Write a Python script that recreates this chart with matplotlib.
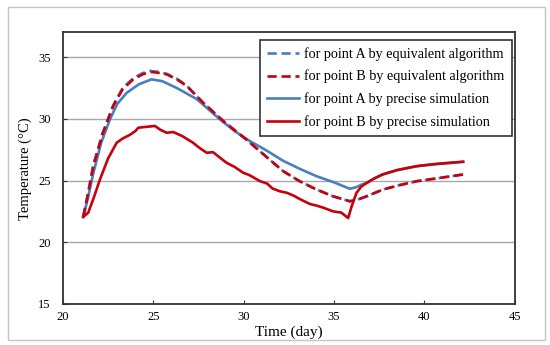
import matplotlib
matplotlib.use('Agg')
import matplotlib.pyplot as plt
from matplotlib.patches import Rectangle

plt.rcParams['font.family'] = ['Liberation Serif', 'DejaVu Serif']

# values
t_a_eq = [21.12, 21.4, 21.68, 22.2, 22.78, 23.3, 23.89, 24.4, 24.81, 25.2, 25.74, 26.3, 26.84,
          27.76, 28.87, 30.16, 31.27, 32.18, 33.1, 34.03, 34.95, 35.87, 36.3, 36.8, 37.7,
          38.6, 39.56, 40.8, 42.14]
temp_a_eq = [22.05, 24.1, 26.3, 28.9, 31.1, 32.5, 33.3, 33.7, 33.88, 33.82, 33.65, 33.25, 32.7,
             31.3, 29.82, 28.3, 26.9, 25.76, 24.94, 24.27, 23.72, 23.32, 23.45, 23.72, 24.27,
             24.62, 24.94, 25.2, 25.49]

t_b_eq = t_a_eq
temp_b_eq = [22.05, 24.0, 26.16, 28.8, 31.04, 32.4, 33.2, 33.6, 33.8, 33.75, 33.6, 33.2, 32.67,
             31.3, 29.82, 28.3, 26.9, 25.76, 24.94, 24.27, 23.72, 23.32, 23.45, 23.72, 24.27,
             24.62, 24.94, 25.2, 25.49]

t_a_pr = [21.12, 21.4, 21.68, 22.1, 22.6, 23.0, 23.52, 24.2, 24.9, 25.5, 26.29, 27.4, 28.68,
          29.5, 30.34, 31.3, 32.18, 33.1, 34.03, 35.0, 35.87, 36.2, 36.5, 36.8, 37.2, 37.7,
          38.5, 39.56, 40.5, 41.3, 42.14]
temp_a_pr = [22.05, 23.7, 25.6, 28.0, 29.96, 31.2, 32.1, 32.8, 33.2, 33.05, 32.5, 31.6, 29.96,
             29.0, 28.2, 27.4, 26.6, 25.95, 25.35, 24.85, 24.33, 24.45, 24.65, 24.8, 25.15, 25.5,
             25.85, 26.16, 26.32, 26.42, 26.52]

t_b_pr = [21.12, 21.4, 21.7, 22.05, 22.5, 22.97, 23.3, 23.7, 24.0, 24.17, 24.6, 25.09, 25.4,
          25.74, 26.1, 26.6, 27.2, 27.5, 27.95, 28.3, 28.6, 29.05, 29.5, 29.97, 30.3, 30.9,
          31.3, 31.6, 32.0, 32.4, 32.8, 33.1, 33.66, 34.03, 34.4, 34.95, 35.4, 35.78, 35.97,
          36.24, 36.5, 36.8, 37.2, 37.7, 38.5, 39.56, 40.5, 41.3, 42.14]
temp_b_pr = [22.05, 22.4, 23.6, 25.1, 26.8, 28.06, 28.4, 28.7, 29.0, 29.28, 29.35, 29.42, 29.1,
             28.87, 28.93, 28.6, 28.06, 27.7, 27.25, 27.3, 26.95, 26.44, 26.1, 25.63, 25.45,
             24.95, 24.75, 24.35, 24.13, 24.0, 23.75, 23.5, 23.1, 22.97, 22.8, 22.5, 22.4,
             21.96, 22.9, 24.0, 24.5, 24.8, 25.15, 25.5, 25.85, 26.16, 26.32, 26.42, 26.52]

labels = ['for point A by equivalent algorithm', 'for point B by equivalent algorithm',
          'for point A by precise simulation', 'for point B by precise simulation']

blue = '#4a7fbf'
red = '#c8000a'

fig = plt.figure(figsize=(5.5, 3.45), dpi=100)
ax = fig.add_axes([0.1145, 0.119, 0.8215, 0.787])

fig.patches.append(Rectangle((0.0145, 0.014), 0.976, 0.966, transform=fig.transFigure,
                             fill=False, edgecolor='#c4c4c4', linewidth=1))

l3, = ax.plot(t_a_pr, temp_a_pr, color=blue, lw=1.9, zorder=3)
l4, = ax.plot(t_b_pr, temp_b_pr, color=red, lw=1.9, zorder=3)
l1, = ax.plot(t_a_eq, temp_a_eq, color=blue, lw=1.9, ls=(0, (3.5, 1.8)), zorder=4)
l2, = ax.plot(t_b_eq, temp_b_eq, color=red, lw=1.9, ls=(0, (3.5, 1.8)), zorder=4)

ax.set_xlim(20, 45)
ax.set_ylim(15, 37)
ax.set_xticks(range(20, 46, 5))
ax.set_yticks(range(15, 36, 5))
ax.yaxis.grid(True, color='#a8a8a8', lw=1)
ax.set_axisbelow(True)
ax.tick_params(labelsize=9, length=3, width=0.8, color='#333333', direction='in')
ax.tick_params(axis='y', pad=9)
ax.tick_params(axis='x', pad=5)
for s in ax.spines.values():
    s.set_linewidth(1.3)
    s.set_color('#333333')

ax.set_xlabel('Time (day)', fontsize=11, labelpad=2)
ax.set_ylabel('Temperature (°C)', fontsize=10.5, labelpad=4)

leg = ax.legend([l1, l2, l3, l4], labels, loc='upper right', bbox_to_anchor=(0.993, 0.972),
                fontsize=10.2, frameon=True, fancybox=False, framealpha=1, borderaxespad=0,
                handlelength=2.2, handletextpad=0.4, labelspacing=0.62, borderpad=0.5)
leg.get_frame().set_edgecolor('#333333')
leg.get_frame().set_linewidth(1.2)

fig.savefig('out.png', dpi=100)
